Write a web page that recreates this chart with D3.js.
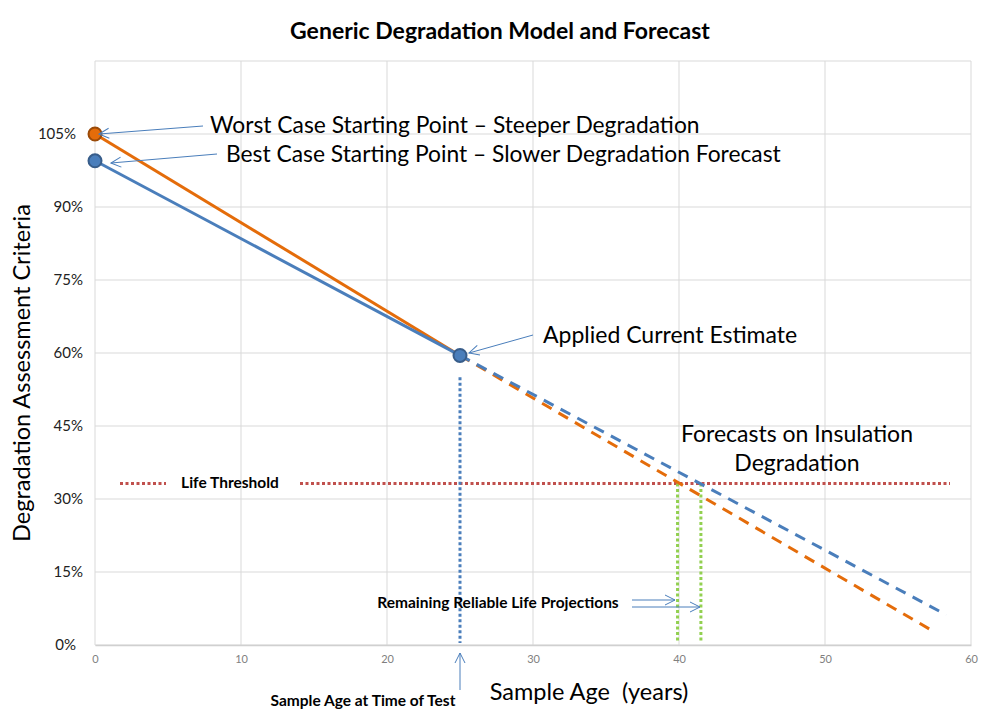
<!DOCTYPE html>
<html><head><meta charset="utf-8">
<script src="https://cdnjs.cloudflare.com/ajax/libs/d3/7.8.5/d3.min.js"></script>
<style>body{margin:0;background:#fff}svg{display:block}text{font-family:Lato,"Open Sans",sans-serif}</style>
</head><body><svg id="c" width="991" height="727"></svg>
<script>
// ---- data ----
const title = "Generic Degradation Model and Forecast";
const xTicks = [0, 10, 20, 30, 40, 50, 60];
const yTicks = [0, 15, 30, 45, 60, 75, 90, 105];
const measuredAge = [0, 25];
const worstCase = [105, 59.5];
const bestCase = [99.5, 59.5];
const forecastAge = { best: [25, 58.3], worst: [25, 57.2] };
const bestForecast = [59.5, 6.2];
const worstForecast = [59.5, 3.2];
const lifeThreshold = 33.2;
const testAge = 25;
const testLineTop = 55;
const projectionAges = [39.9, 41.5];

const svg = d3.select("#c");
const x = d3.scaleLinear().domain([0, 60]).range([95, 971]);
const y = d3.scaleLinear().domain([0, 120]).range([645, 61]);
const grid = "#d9d9d9";
const blue = "#4a7ebb", blueDark = "#385d8a";
const orange = "#e46c0a", orangeDark = "#9a4a08";
const red = "#c0504d", green = "#92d050";

// grid
svg.append("g").selectAll("line").data(d3.range(0, 121, 15)).join("line")
  .attr("x1", x(0)).attr("x2", x(60)).attr("y1", d => y(d)).attr("y2", d => y(d))
  .attr("stroke", grid).attr("stroke-width", 1);
svg.append("g").selectAll("line").data(xTicks).join("line")
  .attr("x1", d => x(d)).attr("x2", d => x(d)).attr("y1", y(0)).attr("y2", y(120))
  .attr("stroke", grid).attr("stroke-width", 1);

// axes
const xAxis = d3.axisBottom(x).tickValues(xTicks).tickSize(0).tickPadding(10);
const gx = svg.append("g").attr("transform", `translate(0,${y(0)})`).call(xAxis);
gx.select(".domain").attr("stroke", "#d0d0d0").attr("stroke-width", 1.5);
gx.selectAll("text").attr("fill", "#7f7f7f").attr("font-size", 11);
const yAxis = d3.axisLeft(y).tickValues(yTicks).tickSize(0).tickPadding(12).tickFormat(d => d + "%");
const gy = svg.append("g").attr("transform", `translate(${x(0)},0)`).call(yAxis);
gy.select(".domain").remove();
gy.selectAll("text").attr("fill", "#222").attr("font-size", 15)
  .attr("dx", d => (d === 0 || d === 105) ? -7 : 0);

// title & axis labels
svg.append("text").attr("x", 500).attr("y", 39).attr("text-anchor", "middle")
  .attr("font-size", 23).attr("font-weight", "bold").text(title);
svg.append("text").attr("transform", "translate(30,373) rotate(-90)").attr("text-anchor", "middle")
  .attr("font-size", 23.5).text("Degradation Assessment Criteria");
svg.append("text").attr("x", 589).attr("y", 700).attr("text-anchor", "middle")
  .attr("font-size", 23.5).attr("xml:space", "preserve").text("Sample Age  (years)");

// arrow marker
const defs = svg.append("defs");
defs.append("marker").attr("id", "ah").attr("viewBox", "0 0 12 12").attr("refX", 11).attr("refY", 6)
  .attr("markerWidth", 12).attr("markerHeight", 12).attr("markerUnits", "userSpaceOnUse").attr("orient", "auto")
  .append("path").attr("d", "M1,1 L11,6 L1,11").attr("fill", "none").attr("stroke", blue).attr("stroke-width", 1);

// life threshold
svg.append("line").attr("x1", 120).attr("x2", 166).attr("y1", y(lifeThreshold)).attr("y2", y(lifeThreshold))
  .attr("stroke", red).attr("stroke-width", 3).attr("stroke-dasharray", "3,2.5");
svg.append("line").attr("x1", 300).attr("x2", 950).attr("y1", y(lifeThreshold)).attr("y2", y(lifeThreshold))
  .attr("stroke", red).attr("stroke-width", 3).attr("stroke-dasharray", "3,2.5");
svg.append("text").attr("x", 230).attr("y", y(lifeThreshold) + 5).attr("text-anchor", "middle")
  .attr("font-size", 15.5).attr("font-weight", "bold").text("Life Threshold");

// test age dotted line
svg.append("line").attr("x1", x(testAge)).attr("x2", x(testAge)).attr("y1", y(testLineTop)).attr("y2", y(0) - 2)
  .attr("stroke", blue).attr("stroke-width", 3).attr("stroke-dasharray", "3,2.5");

// projections
svg.append("g").selectAll("line").data(projectionAges).join("line")
  .attr("x1", d => x(d)).attr("x2", d => x(d)).attr("y1", y(lifeThreshold)).attr("y2", y(0) - 2)
  .attr("stroke", green).attr("stroke-width", 3).attr("stroke-dasharray", "3,2.5");

// forecasts (dashed)
const line = d3.line().x(d => x(d[0])).y(d => y(d[1]));
svg.append("path").attr("d", line(d3.zip(forecastAge.worst, worstForecast)))
  .attr("fill", "none").attr("stroke", orange).attr("stroke-width", 3).attr("stroke-dasharray", "11,8");
svg.append("path").attr("d", line(d3.zip(forecastAge.best, bestForecast)))
  .attr("fill", "none").attr("stroke", blue).attr("stroke-width", 3).attr("stroke-dasharray", "11,8");

// solid lines
svg.append("path").attr("d", line(d3.zip(measuredAge, worstCase)))
  .attr("fill", "none").attr("stroke", orange).attr("stroke-width", 3);
svg.append("path").attr("d", line(d3.zip(measuredAge, bestCase)))
  .attr("fill", "none").attr("stroke", blue).attr("stroke-width", 3);

// markers
svg.append("circle").attr("cx", x(measuredAge[0])).attr("cy", y(worstCase[0])).attr("r", 6.5)
  .attr("fill", orange).attr("stroke", orangeDark).attr("stroke-width", 2);
svg.append("g").selectAll("circle").data(d3.zip(measuredAge, bestCase)).join("circle")
  .attr("cx", d => x(d[0])).attr("cy", d => y(d[1])).attr("r", 6.5)
  .attr("fill", blue).attr("stroke", blueDark).attr("stroke-width", 2);

// annotations
function arrow(x1, y1, x2, y2) {
  svg.append("line").attr("x1", x1).attr("y1", y1).attr("x2", x2).attr("y2", y2)
    .attr("stroke", blue).attr("stroke-width", 1).attr("marker-end", "url(#ah)");
}
arrow(203, 126, 99, 134);
arrow(217, 154, 111, 163);
arrow(533, 335, 469, 353);
arrow(632, 600, 675, 600);
arrow(632, 607, 700, 607);
arrow(x(testAge), 690, x(testAge), 653);

svg.append("text").attr("x", 210).attr("y", 133).attr("font-size", 22.8).text("Worst Case Starting Point \u2013 Steeper Degradation");
svg.append("text").attr("x", 226).attr("y", 162).attr("font-size", 22.8).text("Best Case Starting Point \u2013 Slower Degradation Forecast");
svg.append("text").attr("x", 543).attr("y", 343).attr("font-size", 23).text("Applied Current Estimate");
svg.append("text").attr("x", 797).attr("y", 442).attr("text-anchor", "middle").attr("font-size", 23).text("Forecasts on Insulation");
svg.append("text").attr("x", 797).attr("y", 471).attr("text-anchor", "middle").attr("font-size", 23).text("Degradation");
svg.append("text").attr("x", 498).attr("y", 608).attr("text-anchor", "middle")
  .attr("font-size", 15.5).attr("font-weight", "bold").text("Remaining Reliable Life Projections");
svg.append("text").attr("x", 363).attr("y", 706).attr("text-anchor", "middle")
  .attr("font-size", 15.5).attr("font-weight", "bold").text("Sample Age at Time of Test");
</script></body></html>
